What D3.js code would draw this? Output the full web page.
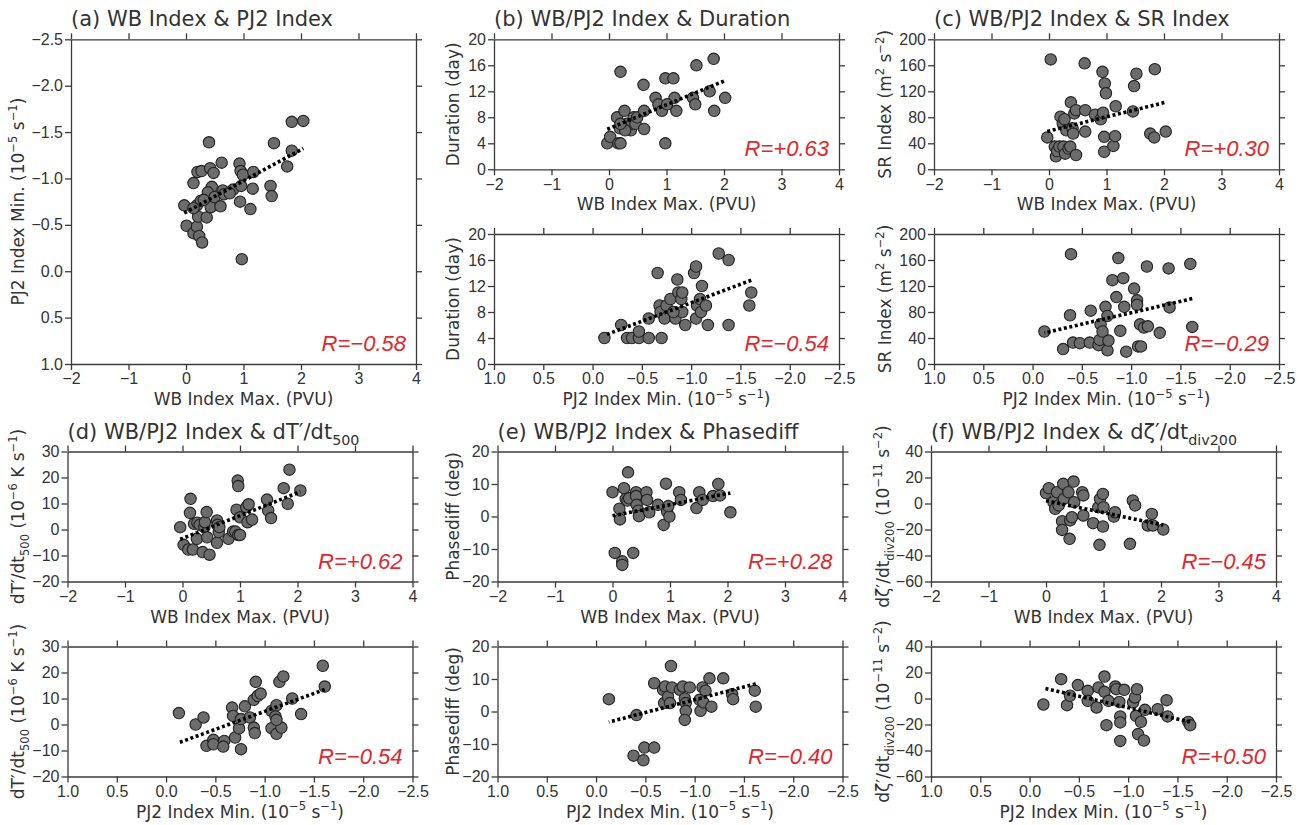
<!DOCTYPE html>
<html>
<head>
<meta charset="utf-8">
<script src="https://cdn.jsdelivr.net/npm/d3@7"></script>
<style>
body { margin: 0; background: #fff; }
svg text { font-family: "DejaVu Sans", sans-serif; fill: #333; }
.axis path, .axis line { stroke: #3a3a3a; stroke-width: 1.3; }
.axis text { font-family: "Liberation Sans", Arial, sans-serif; font-size: 16px; fill: #333; }
.rlab { font-family: "Liberation Sans", Arial, sans-serif; font-style: italic; font-size: 22px; fill: #e2262b; }
</style>
</head>
<body>
<div id="chart"></div>
<script>
// ---- tick values ----
var wbTicks = [-2, -1, 0, 1, 2, 3, 4];
var pjTicks = [1.0, 0.5, 0.0, -0.5, -1.0, -1.5, -2.0, -2.5];
var durTicks = [0, 4, 8, 12, 16, 20];
var srTicks = [0, 40, 80, 120, 160, 200];
var dtTicks = [-20, -10, 0, 10, 20, 30];
var phTicks = [-20, -10, 0, 10, 20];
var dzTicks = [-60, -40, -20, 0, 20, 40];

// ---- points: [x, y] ----
// (a) WB max vs PJ2 min
var wbPj2 = [[-0.03,-0.71],[0.01,-0.49],[0.13,-0.41],[0.19,-0.48],[0.23,-0.38],[0.28,-0.31],
  [0.13,-0.95],[0.20,-1.07],[0.27,-1.08],[0.19,-0.71],[0.26,-0.76],[0.21,-0.59],
  [0.36,-0.58],[0.40,-1.39],[0.42,-1.11],[0.48,-1.06],[0.45,-0.91],[0.38,-0.85],
  [0.43,-0.69],[0.50,-0.80],[0.60,-0.70],[0.62,-1.17],[0.64,-0.87],[0.66,-0.83],
  [0.82,-0.88],[0.93,-1.16],[0.95,-1.08],[0.99,-1.04],[0.94,-0.75],[0.97,-0.13],
  [1.16,-0.89],[1.17,-1.07],[1.12,-0.67],[0.96,-0.92],[1.47,-0.92],[1.49,-0.81],
  [1.53,-1.38],[1.76,-1.13],[1.84,-1.30],[1.84,-1.61],[2.04,-1.62],[0.31,-0.77],
  [0.13,-0.68],[0.76,-0.84]];
// (b) duration
var wbDur = [[-0.03,4],[0.02,5],[0.16,4],[0.20,4],[0.14,8],[0.20,15],[0.27,9],[0.19,6.3],
  [0.31,7],[0.38,6],[0.43,8],[0.40,7],[0.28,6],[0.46,7],[0.49,8],[0.20,7],[0.61,9],
  [0.61,6.2],[0.60,13],[0.81,11],[0.86,10],[0.92,9],[0.98,14],[0.98,4],[1.12,14],
  [1.14,11],[1.17,9],[1.01,10],[1.46,11],[1.50,10],[1.52,16],[1.75,12],[1.82,17],
  [1.83,9],[2.02,11]];
var pjDur = [[-0.12,4],[-0.29,6],[-0.35,4],[-0.40,4],[-0.47,4],[-0.47,5],[-0.57,4],
  [-0.57,7],[-0.70,4],[-0.66,14],[-0.68,9],[-0.69,8],[-0.73,7],[-0.75,9],[-0.79,10],
  [-0.84,7],[-0.86,13],[-0.87,11],[-0.90,10],[-0.91,11],[-0.91,8],[-0.94,6],[-1.03,14],
  [-1.05,15],[-1.05,7],[-1.06,9],[-1.09,10],[-1.10,8],[-1.11,12],[-1.15,9],[-1.17,6],
  [-1.28,17],[-1.38,16],[-1.38,6],[-1.59,9],[-1.61,11],[-0.82,8]];
// (c) SR index
var wbSr = [[-0.03,49],[0.03,169],[0.10,35],[0.12,20],[0.14,28],[0.18,35],[0.20,81],
  [0.24,70],[0.27,77],[0.30,60],[0.25,35],[0.28,24],[0.34,32],[0.37,35],[0.38,103],
  [0.41,63],[0.42,55],[0.44,86],[0.47,91],[0.47,22],[0.62,163],[0.63,91],[0.63,58],
  [0.80,84],[0.90,77],[0.93,150],[0.94,87],[0.97,132],[0.99,117],[0.96,50],[0.96,27],
  [1.12,36],[1.15,51],[1.16,97],[1.46,89],[1.48,128],[1.52,147],[1.76,55],[1.83,49],
  [1.84,154],[2.03,58]];
var pjSr = [[-0.12,50],[-0.31,23],[-0.38,75],[-0.41,33],[-0.48,32],[-0.39,169],[-0.58,33],
  [-0.59,82],[-0.67,29],[-0.68,37],[-0.69,61],[-0.71,50],[-0.74,88],[-0.76,74],[-0.76,21],
  [-0.77,36],[-0.81,129],[-0.85,103],[-0.87,163],[-0.89,51],[-0.92,132],[-0.93,88],
  [-0.95,19],[-1.03,116],[-1.06,98],[-1.07,27],[-1.06,91],[-1.09,61],[-1.10,27],
  [-1.13,56],[-1.17,58],[-1.16,150],[-1.29,48],[-1.38,147],[-1.39,87],[-1.60,154],
  [-1.62,57]];
// (d) dT'/dt 500
var wbDT = [[-0.04,0.9],[0.02,-5.9],[0.10,-7.7],[0.14,11.8],[0.13,6.4],[0.18,-7.7],
  [0.20,2.2],[0.26,2.6],[0.30,1.8],[0.25,-3.6],[0.38,0.9],[0.39,2.8],[0.42,6.7],
  [0.35,-8.7],[0.47,-9.7],[0.43,-3],[0.60,3.5],[0.61,1.8],[0.60,-5.1],[0.63,-1.0],
  [0.64,0.9],[0.80,-3.6],[0.88,-0.8],[0.92,-0.8],[0.97,-2.1],[1.00,-2.1],[0.96,18.8],
  [0.97,16.7],[0.94,7.6],[1.00,4.7],[1.11,8.6],[1.13,2.8],[1.21,3.8],[1.15,9.7],
  [1.47,11.5],[1.49,7.3],[1.54,4.4],[1.76,15.9],[1.83,9.9],[1.86,23],[2.05,15]];
var pjDT = [[-0.13,4.4],[-0.30,0],[-0.38,2.7],[-0.41,-8.2],[-0.48,-5.9],[-0.48,-7.6],
  [-0.59,-6.3],[-0.58,-8.5],[-0.67,6.5],[-0.68,3.3],[-0.70,-5],[-0.74,-1.5],[-0.76,2.1],
  [-0.80,7],[-0.76,-9.5],[-0.85,2.7],[-0.89,-1.2],[-0.91,16.4],[-0.89,9.5],[-0.93,11],
  [-0.96,11.9],[-0.90,-3.3],[-1.07,-1.4],[-1.07,5.2],[-1.12,7.4],[-1.11,3.1],[-1.12,-3.6],
  [-1.15,16.4],[-1.19,18.5],[-1.17,-1.2],[-1.28,10],[-1.37,4],[-1.59,22.6],[-1.61,14.6],
  [-1.12,1.8]];
// (e) phase difference
var wbPh = [[0.00,7.5],[0.04,-11.2],[0.12,2.4],[0.13,-0.9],[0.17,-13.8],[0.17,-14.9],
  [0.20,8.7],[0.27,13.6],[0.23,5.4],[0.26,4.9],[0.29,5.6],[0.36,-11.2],[0.41,7.5],
  [0.41,6.3],[0.42,3.6],[0.45,1.8],[0.46,0.1],[0.59,7.5],[0.60,5.1],[0.64,1.3],[0.79,3.6],
  [0.89,-2.6],[0.93,10.1],[0.95,1.5],[0.99,0.0],[0.97,3.2],[1.16,7.5],[1.19,5.1],
  [1.46,2.6],[1.51,7.5],[1.57,5.1],[1.84,10],[1.75,6.3],[1.87,6.5],[2.05,1.3]];
var pjPh = [[-0.13,3.8],[-0.41,-1.1],[-0.38,-13.6],[-0.48,-15],[-0.49,-11.1],[-0.59,-11.1],
  [-0.59,8.7],[-0.68,6.7],[-0.70,7.7],[-0.69,2.6],[-0.73,4.6],[-0.76,14],[-0.75,2.6],
  [-0.77,7.4],[-0.85,6.7],[-0.88,7.7],[-0.90,4],[-0.91,2.6],[-0.91,0.2],[-0.90,-2.6],
  [-0.95,7.4],[-1.05,3.6],[-1.06,0.2],[-1.08,7.4],[-1.11,6.4],[-1.09,2.8],[-1.15,10.2],
  [-1.17,1.5],[-1.29,10.2],[-1.38,5.3],[-1.39,3.8],[-1.61,6.4],[-1.62,1.5]];
// (f) d zeta'/dt div200
var wbDz = [[0.00,8],[0.05,11.8],[0.13,1],[0.16,-4.1],[0.19,8.7],[0.22,-1.5],[0.30,15.1],
  [0.31,3.6],[0.28,-13.6],[0.28,-20.3],[0.39,8.7],[0.42,-13],[0.41,-27.2],[0.45,-10.5],
  [0.48,16.9],[0.49,1],[0.63,8.7],[0.65,6.2],[0.65,-9.2],[0.82,-15.1],[0.91,-2.8],
  [0.93,-31.8],[0.94,3.6],[0.99,7.4],[0.99,-17.7],[1.00,-2.8],[1.18,-10],[1.20,-6.7],
  [1.46,-31],[1.51,2.3],[1.55,-1.5],[1.77,-16.9],[1.84,-8],[1.86,-16.9],[2.04,-20]];
var pjDz = [[-0.14,-4.6],[-0.32,14.9],[-0.38,-5.1],[-0.41,2.1],[-0.49,10.3],[-0.59,5.9],
  [-0.59,-1.8],[-0.68,-6.9],[-0.70,8.5],[-0.76,16.9],[-0.76,5.1],[-0.78,-20.5],[-0.80,-1.8],
  [-0.87,9.2],[-0.88,7.2],[-0.92,-13.8],[-0.92,-32.6],[-0.92,-18.4],[-0.91,-2.6],
  [-0.96,6.7],[-1.05,-3.1],[-1.07,0.8],[-1.09,7.2],[-1.08,-13.3],[-1.10,-27.4],
  [-1.13,-17.9],[-1.16,-32.3],[-1.17,-8.7],[-1.30,-8.2],[-1.39,-1.3],[-1.40,-13.8],
  [-1.61,-18],[-1.63,-20.5]];

// correlation labels
var rLabels = ["−0.58", "+0.63", "−0.54", "+0.30", "−0.29",
               "+0.62", "−0.54", "+0.28", "−0.40", "−0.45", "+0.50"];

// ---- text pieces: [text, "sup"|"sub"|undefined] ----
var wbTitle = [["WB Index Max. (PVU)"]];
var pjTitle = [["PJ2 Index Min. (10"], ["−5", "sup"], [" s"], ["−1", "sup"], [")"]];
var durTitle = [["Duration (day)"]];
var srTitle = [["SR Index (m"], ["2", "sup"], [" s"], ["−2", "sup"], [")"]];
var dtTitle = [["dT′/dt"], ["500", "sub"], [" (10"], ["−6", "sup"], [" K s"], ["−1", "sup"], [")"]];
var phTitle = [["Phasediff (deg)"]];
var dzTitle = [["dζ′/dt"], ["div200", "sub"], [" (10"], ["−11", "sup"], [" s"], ["−2", "sup"], [")"]];

var svg = d3.select("#chart").append("svg")
    .attr("width", 1308)
    .attr("height", 825);

var W = 345;

// write text with super/subscripts as tspans
function rich(sel, parts, fs) {
    var shift = 0;
    parts.forEach(function(p) {
        var target = p[1] == "sup" ? -0.42 * fs : (p[1] == "sub" ? 0.3 * fs : 0);
        var t = sel.append("tspan").text(p[0]).attr("dy", target - shift);
        if (p[1]) t.attr("font-size", fs * 0.68);
        shift = target;
    });
}

function fitLine(pts) {
    var mx = d3.mean(pts, d => d[0]), my = d3.mean(pts, d => d[1]);
    var sxy = d3.sum(pts, d => (d[0] - mx) * (d[1] - my));
    var sxx = d3.sum(pts, d => (d[0] - mx) * (d[0] - mx));
    var b = sxy / sxx, a = my - b * mx;
    return d3.extent(pts, d => d[0]).map(v => [v, a + b * v]);
}

function drawPanel(p) {
    var g = svg.append("g").attr("transform", `translate(${p.left}, ${p.top})`);
    var h = p.h;

    var xTicks = p.xKind == "wb" ? wbTicks : pjTicks;
    var xFmt = p.xKind == "wb" ? d3.format("d") : d3.format(".1f");
    var x = d3.scaleLinear().domain([xTicks[0], xTicks[xTicks.length - 1]]).range([0, W]);
    var y = d3.scaleLinear().domain([p.yTicks[0], p.yTicks[p.yTicks.length - 1]]).range([h, 0]);

    // four axes, ticks pointing out
    g.append("g").attr("class", "axis").attr("transform", `translate(0, ${h})`)
        .call(d3.axisBottom(x).tickValues(xTicks).tickFormat(xFmt).tickSize(6).tickSizeOuter(0).tickPadding(3));
    g.append("g").attr("class", "axis")
        .call(d3.axisTop(x).tickValues(xTicks).tickFormat("").tickSize(6).tickSizeOuter(0));
    g.append("g").attr("class", "axis")
        .call(d3.axisLeft(y).tickValues(p.yTicks).tickFormat(p.yFmt).tickSize(6).tickSizeOuter(0).tickPadding(2));
    g.append("g").attr("class", "axis").attr("transform", `translate(${W}, 0)`)
        .call(d3.axisRight(y).tickValues(p.yTicks).tickFormat("").tickSize(6).tickSizeOuter(0));

    // points
    g.append("g").selectAll("circle")
        .data(p.data)
        .enter()
        .append("circle")
        .attr("cx", d => x(d[0]))
        .attr("cy", d => y(d[1]))
        .attr("r", 5.7)
        .style("fill", "#6c6c6c")
        .style("stroke", "#222")
        .style("stroke-width", 1.1);

    // least squares line
    var line = d3.line().x(d => x(d[0])).y(d => y(d[1]));
    g.append("path")
        .attr("d", line(fitLine(p.data)))
        .style("fill", "none")
        .style("stroke", "#000")
        .style("stroke-width", 3.6)
        .style("stroke-dasharray", "3,2.6");

    // R label
    g.append("text").attr("class", "rlab")
        .attr("x", W - 10).attr("y", h - 13)
        .attr("text-anchor", "end")
        .text("R=" + p.r);

    // axis titles
    var xt = g.append("text")
        .attr("x", W / 2).attr("y", h + 41)
        .attr("text-anchor", "middle")
        .style("font-size", "17px");
    rich(xt, p.xKind == "wb" ? wbTitle : pjTitle, 17);

    var yt = g.append("text")
        .attr("transform", `translate(${-p.yOff + 6}, ${h / 2}) rotate(-90)`)
        .attr("text-anchor", "middle")
        .style("font-size", "17px");
    rich(yt, p.yTitle, 17);

    // panel title
    if (p.title) {
        var tt = g.append("text")
            .attr("x", 0).attr("y", -13)
            .style("font-size", "21px");
        rich(tt, p.title, 21);
    }
}

var fmt1 = d3.format(".1f"), fmtD = d3.format("d");

var panels = [
    {data: wbPj2, xKind: "wb", yTicks: pjTicks, yFmt: fmt1, left: 71, top: 39.3, h: 324.7, yOff: 53,
     yTitle: pjTitle, r: rLabels[0], title: [["(a) WB Index & PJ2 Index"]]},
    {data: wbDur, xKind: "wb", yTicks: durTicks, yFmt: fmtD, left: 494, top: 39.3, h: 130, yOff: 41,
     yTitle: durTitle, r: rLabels[1], title: [["(b) WB/PJ2 Index & Duration"]]},
    {data: pjDur, xKind: "pj", yTicks: durTicks, yFmt: fmtD, left: 494, top: 234, h: 130, yOff: 41,
     yTitle: durTitle, r: rLabels[2]},
    {data: wbSr, xKind: "wb", yTicks: srTicks, yFmt: fmtD, left: 934, top: 39.3, h: 130, yOff: 49,
     yTitle: srTitle, r: rLabels[3], title: [["(c) WB/PJ2 Index & SR Index"]]},
    {data: pjSr, xKind: "pj", yTicks: srTicks, yFmt: fmtD, left: 934, top: 234, h: 130, yOff: 49,
     yTitle: srTitle, r: rLabels[4]},
    {data: wbDT, xKind: "wb", yTicks: dtTicks, yFmt: fmtD, left: 67.5, top: 451.5, h: 130, yOff: 49.5,
     yTitle: dtTitle, r: rLabels[5], title: [["(d) WB/PJ2 Index & dT′/dt"], ["500", "sub"]]},
    {data: pjDT, xKind: "pj", yTicks: dtTicks, yFmt: fmtD, left: 67.5, top: 646.5, h: 130, yOff: 49.5,
     yTitle: dtTitle, r: rLabels[6]},
    {data: wbPh, xKind: "wb", yTicks: phTicks, yFmt: fmtD, left: 497.5, top: 451.5, h: 130, yOff: 45,
     yTitle: phTitle, r: rLabels[7], title: [["(e) WB/PJ2 Index & Phasediff"]]},
    {data: pjPh, xKind: "pj", yTicks: phTicks, yFmt: fmtD, left: 497.5, top: 646.5, h: 130, yOff: 45,
     yTitle: phTitle, r: rLabels[8]},
    {data: wbDz, xKind: "wb", yTicks: dzTicks, yFmt: fmtD, left: 931, top: 451.5, h: 130, yOff: 48,
     yTitle: dzTitle, r: rLabels[9], title: [["(f) WB/PJ2 Index & dζ′/dt"], ["div200", "sub"]]},
    {data: pjDz, xKind: "pj", yTicks: dzTicks, yFmt: fmtD, left: 931, top: 646.5, h: 130, yOff: 48,
     yTitle: dzTitle, r: rLabels[10]}
];

panels.forEach(drawPanel);
</script>
</body>
</html>
